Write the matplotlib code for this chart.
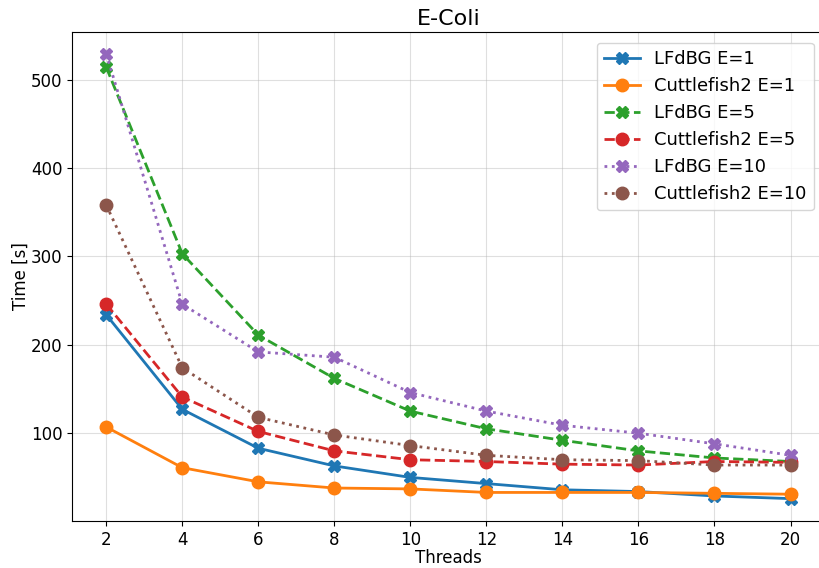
import matplotlib
matplotlib.use('Agg')
import matplotlib.pyplot as plt

threads = [2, 4, 6, 8, 10, 12, 14, 16, 18, 20]

lfdbg_e1 = [234, 127, 83, 63, 50, 43, 36, 34, 29, 26]
cuttle_e1 = [107, 61, 45, 38, 37, 33, 33, 33, 32, 31]
lfdbg_e5 = [514, 303, 211, 162, 125, 105, 92, 80, 72, 68]
cuttle_e5 = [246, 141, 102, 80, 70, 68, 65, 64, 68, 67]
lfdbg_e10 = [529, 246, 192, 186, 146, 125, 109, 100, 88, 75]
cuttle_e10 = [358, 174, 118, 98, 86, 75, 70, 69, 64, 64]

fig, ax = plt.subplots(figsize=(8.19, 5.68), dpi=100)
# the axes run a little past the right edge of the picture
fig.subplots_adjust(left=0.088, right=1.007, top=0.944, bottom=0.083)

ax.plot(threads, lfdbg_e1, '-', marker='X', color='tab:blue', lw=2, ms=9, label='LFdBG E=1')
ax.plot(threads, cuttle_e1, '-', marker='o', color='tab:orange', lw=2, ms=9, label='Cuttlefish2 E=1')
ax.plot(threads, lfdbg_e5, '--', marker='X', color='tab:green', lw=2, ms=9, label='LFdBG E=5')
ax.plot(threads, cuttle_e5, '--', marker='o', color='tab:red', lw=2, ms=9, label='Cuttlefish2 E=5')
ax.plot(threads, lfdbg_e10, ':', marker='X', color='tab:purple', lw=2, ms=9, label='LFdBG E=10')
ax.plot(threads, cuttle_e10, ':', marker='o', color='tab:brown', lw=2, ms=9, label='Cuttlefish2 E=10')

ax.set_xticks(threads)
ax.tick_params(labelsize=12)
ax.set_xlabel('Threads', fontsize=12, labelpad=0)
ax.set_ylabel('Time [s]', fontsize=12, labelpad=0.5)
ax.set_title('E-Coli', fontsize=16, pad=5)
ax.grid(True, alpha=0.4)
ax.legend(fontsize=13, loc='upper right', borderaxespad=0.6)

plt.savefig('out.png')
